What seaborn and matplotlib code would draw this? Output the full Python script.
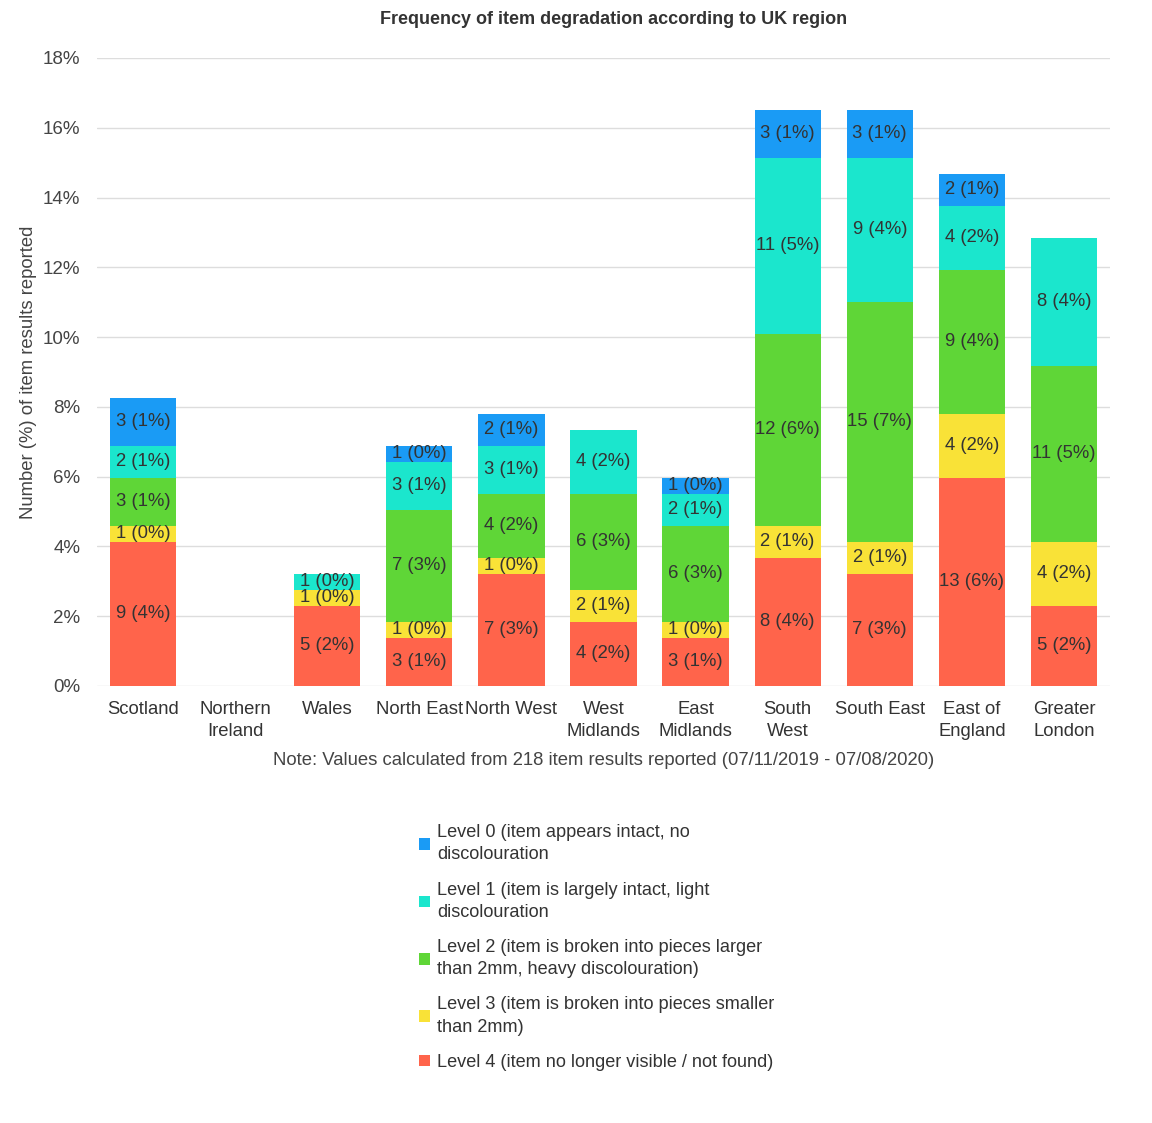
import matplotlib
matplotlib.use("Agg")
import matplotlib.pyplot as plt
import seaborn as sns
import pandas as pd
import numpy as np
from matplotlib.patches import Patch

regions = ["Scotland", "Northern\nIreland", "Wales", "North East", "North West",
           "West\nMidlands", "East\nMidlands", "South\nWest", "South East",
           "East of\nEngland", "Greater\nLondon"]
level4 = [9, 0, 5, 3, 7, 4, 3, 8, 7, 13, 5]
level3 = [1, 0, 1, 1, 1, 2, 1, 2, 2, 4, 4]
level2 = [3, 0, 0, 7, 4, 6, 6, 12, 15, 9, 11]
level1 = [2, 0, 1, 3, 3, 4, 2, 11, 9, 4, 8]
level0 = [3, 0, 0, 1, 2, 0, 1, 3, 3, 2, 0]
total_items = 218

level_names = [
    "Level 0 (item appears intact, no\ndiscolouration",
    "Level 1 (item is largely intact, light\ndiscolouration",
    "Level 2 (item is broken into pieces larger\nthan 2mm, heavy discolouration)",
    "Level 3 (item is broken into pieces smaller\nthan 2mm)",
    "Level 4 (item no longer visible / not found)",
]
colors = ["#1A9BF5", "#1BE6CD", "#5FD637", "#F9E237", "#FF644B"]

sns.set_theme(style="white")
plt.rcParams['font.family'] = ['Liberation Sans', 'DejaVu Sans']

fig = plt.figure(figsize=(11.52, 11.23), dpi=100)
ax = fig.add_axes([97/1152, 1-686/1123, (1110-97)/1152, (686-58)/1123])

stack = [level4, level3, level2, level1, level0]
stack_colors = colors[::-1]
counts = np.array(stack, dtype=float)
cum = np.cumsum(counts, axis=0) / total_items * 100
bottoms = np.vstack([np.zeros(len(regions)), cum[:-1]])

for i in range(len(stack) - 1, -1, -1):
    df = pd.DataFrame({"region": regions, "value": cum[i]})
    sns.barplot(data=df, x="region", y="value", color=stack_colors[i],
                width=0.72, saturation=1, ax=ax, edgecolor="none", linewidth=0)

for i in range(len(stack)):
    for j in range(len(regions)):
        c = stack[i][j]
        if c > 0:
            y = (bottoms[i][j] + cum[i][j]) / 2
            pct = int(np.floor(c / total_items * 100 + 0.5))
            ax.text(j, y, f"{c} ({pct}%)", ha="center", va="center",
                    fontsize=13.3, color="#333333")

ax.set_ylim(0, 18)
ax.set_xlim(-0.5, len(regions) - 0.5)
ax.set_yticks(np.arange(0, 19, 2))
ax.set_yticklabels([f"{v}%" for v in range(0, 19, 2)], fontsize=13.5, color="#444444")
ax.set_xticks(range(len(regions)))
ax.set_xticklabels(regions, fontsize=13.3, color="#333333", linespacing=1.35)
ax.tick_params(axis="x", length=0, pad=11)
ax.tick_params(axis="y", length=0, pad=12)
ax.yaxis.grid(True, color="#dddddd", linewidth=1)
ax.set_axisbelow(True)
for s in ax.spines.values():
    s.set_visible(False)
ax.set_xlabel("Note: Values calculated from 218 item results reported (07/11/2019 - 07/08/2020)",
              fontsize=13.3, color="#444444", labelpad=9)
ax.set_ylabel("Number (%) of item results reported", fontsize=13.3, color="#444444", labelpad=4)
fig.text(614/1152, 1-20/1123, "Frequency of item degradation according to UK region",
         ha="center", va="center", fontsize=13, fontweight="bold", color="#333333")

handles = [Patch(facecolor=c, edgecolor="none") for c in colors]
leg = fig.legend(handles, level_names, loc="upper left",
                 bbox_to_anchor=(412/1152, 1-817/1123), frameon=False,
                 fontsize=13.1, handlelength=0.6, handleheight=0.6,
                 handletextpad=0.4, labelspacing=1.0, borderaxespad=0)
for t in leg.get_texts():
    t.set_color("#333333")
    t.set_linespacing(1.4)

fig.savefig("out.png", dpi=100)
